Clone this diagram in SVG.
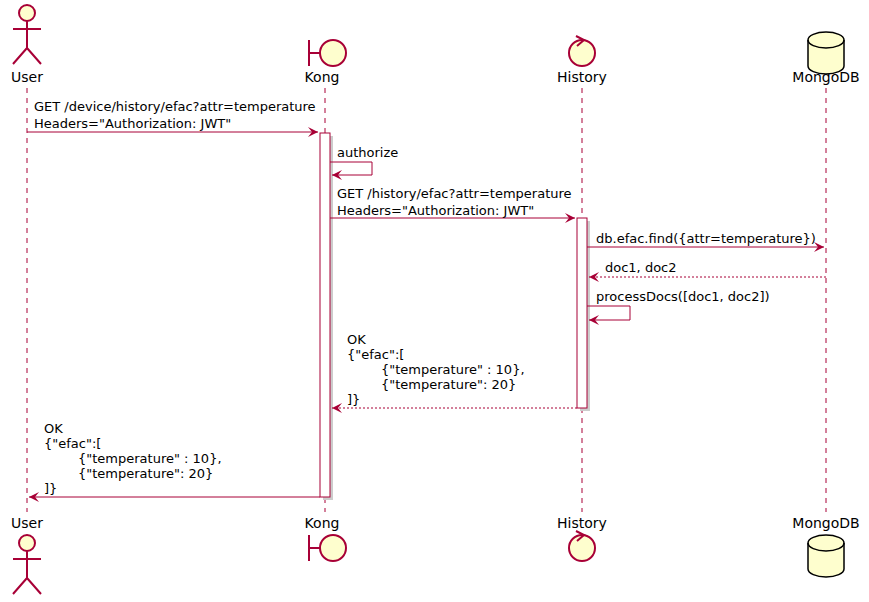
<svg xmlns="http://www.w3.org/2000/svg" width="869" height="602" viewBox="0 0 869 602">
<style>
.t{font-family:"DejaVu Sans",sans-serif;font-size:13px;fill:#000}
.n{font-family:"DejaVu Sans",sans-serif;font-size:14px;fill:#000;text-anchor:middle}
.ln{stroke:#A80036;stroke-width:1;fill:none}
.ll{stroke:#A80036;stroke-width:1;stroke-dasharray:5,5}
.ic{fill:#FEFECE;stroke:#A80036;stroke-width:2}
.act{fill:#fff;stroke:#A80036;stroke-width:1}
.sh{fill:#ccc;stroke:none}
</style>
<defs>
<marker id="o" markerWidth="12" markerHeight="10" refX="10" refY="5" orient="auto" markerUnits="userSpaceOnUse"><path d="M0,0 L10,5 L0,10 L4,5 Z" fill="#A80036"/></marker>
</defs>
<g id="lifelines">
<line class="ll" x1="27" y1="88" x2="27" y2="512"/>
<line class="ll" x1="325" y1="88" x2="325" y2="512"/>
<line class="ll" x1="582" y1="88" x2="582" y2="512"/>
<line class="ll" x1="826" y1="88" x2="826" y2="512"/>
</g>
<g id="User">
<circle class="ic" cx="27" cy="13" r="8"/>
<path class="ln" style="stroke-width:2" d="M27,21 V48 M13,29 H41 M27,48 L13,64 M27,48 L41,64"/>
<text class="n" x="27" y="82">User</text>
<text class="n" x="27" y="528">User</text>
<circle class="ic" cx="27" cy="543" r="8"/>
<path class="ln" style="stroke-width:2" d="M27,551 V578 M13,559 H41 M27,578 L13,594 M27,578 L41,594"/>
</g>
<g id="Kong">
<path class="ln" style="stroke-width:2" d="M309,40 V66 M309,53 H320"/>
<circle class="ic" cx="333" cy="53" r="13"/>
<text class="n" x="322" y="82">Kong</text>
<text class="n" x="322" y="528">Kong</text>
<path class="ln" style="stroke-width:2" d="M309,535 V561 M309,548 H320"/>
<circle class="ic" cx="333" cy="548" r="13"/>
<rect class="sh" x="323" y="136" width="10" height="364"/>
<rect class="act" x="320" y="133" width="10" height="364"/>
</g>
<g id="History">
<circle class="ic" cx="582" cy="53" r="13"/>
<path d="M576,36 L584,40 L577,46" fill="none" stroke="#A80036" stroke-width="2"/>
<text class="n" x="582" y="82">History</text>
<text class="n" x="582" y="528">History</text>
<circle class="ic" cx="582" cy="548" r="13"/>
<path d="M576,531 L584,535 L577,541" fill="none" stroke="#A80036" stroke-width="2"/>
<rect class="sh" x="580" y="221" width="10" height="190"/>
<rect class="act" x="577" y="218" width="10" height="190"/>
</g>
<g id="MongoDB">
<path class="ic" style="stroke:#000;stroke-width:1.5" d="M808,40 A18,8 0 0 1 844,40 V66 A18,8 0 0 1 808,66 Z"/>
<path d="M808,40 A18,8 0 0 0 844,40" fill="none" stroke="#000" stroke-width="1.5"/>
<text class="n" x="826" y="82">MongoDB</text>
<text class="n" x="826" y="528">MongoDB</text>
<path class="ic" style="stroke:#000;stroke-width:1.5" d="M808,543 A18,8 0 0 1 844,543 V569 A18,8 0 0 1 808,569 Z"/>
<path d="M808,543 A18,8 0 0 0 844,543" fill="none" stroke="#000" stroke-width="1.5"/>
</g>
<g id="connectors">
<line class="ln" x1="27" y1="132" x2="318" y2="132" marker-end="url(#o)"/>
<path class="ln" d="M330,162 H372 V175 H332" marker-end="url(#o)"/>
<line class="ln" x1="330" y1="218" x2="575" y2="218" marker-end="url(#o)"/>
<line class="ln" x1="587" y1="247" x2="824" y2="247" marker-end="url(#o)"/>
<line class="ln" x1="826" y1="277" x2="589" y2="277" stroke-dasharray="2,2" marker-end="url(#o)"/>
<path class="ln" d="M587,306 H630 V320 H589" marker-end="url(#o)"/>
<line class="ln" x1="577" y1="408" x2="332" y2="408" stroke-dasharray="2,2" marker-end="url(#o)"/>
<line class="ln" x1="320" y1="497" x2="29" y2="497" marker-end="url(#o)"/>
</g>
<g id="labels">
<text class="t" x="34" y="111">GET /device/history/efac?attr=temperature</text>
<text class="t" x="34" y="128">Headers="Authorization: JWT"</text>
<text class="t" x="337" y="157">authorize</text>
<text class="t" x="337" y="198">GET /history/efac?attr=temperature</text>
<text class="t" x="337" y="215">Headers="Authorization: JWT"</text>
<text class="t" x="596" y="243">db.efac.find({attr=temperature})</text>
<text class="t" x="605" y="272">doc1, doc2</text>
<text class="t" x="596" y="301">processDocs([doc1, doc2])</text>
<text class="t" x="347" y="344">OK</text>
<text class="t" x="347" y="359">{"efac":[</text>
<text class="t" x="381" y="374">{"temperature" : 10},</text>
<text class="t" x="381" y="389">{"temperature": 20}</text>
<text class="t" x="347" y="404">]}</text>
<text class="t" x="44" y="433">OK</text>
<text class="t" x="44" y="448">{"efac":[</text>
<text class="t" x="78" y="463">{"temperature" : 10},</text>
<text class="t" x="78" y="478">{"temperature": 20}</text>
<text class="t" x="44" y="493">]}</text>
</g>
</svg>
